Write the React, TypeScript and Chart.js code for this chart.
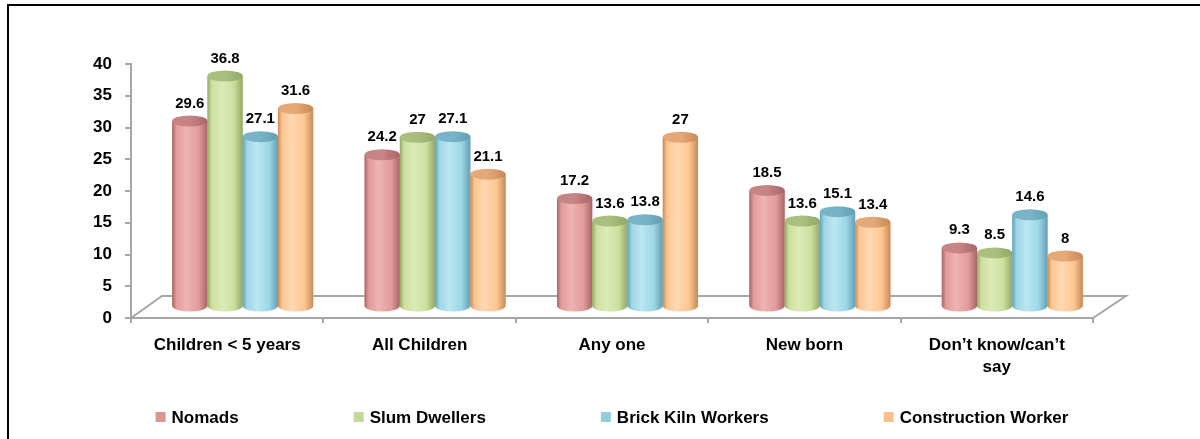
import React, { useEffect, useRef } from "react";
import { Chart, registerables } from "chart.js";

Chart.register(...registerables);

// ---------- data ----------
const categories: (string | string[])[] = [
  "Children < 5 years",
  "All Children",
  "Any one",
  "New born",
  ["Don\u2019t know/can\u2019t", "say"],
];
const seriesNames = ["Nomads", "Slum Dwellers", "Brick Kiln Workers", "Construction Worker"];
const nomads = [29.6, 24.2, 17.2, 18.5, 9.3];
const slumDwellers = [36.8, 27, 13.6, 13.6, 8.5];
const brickKilnWorkers = [27.1, 27.1, 13.8, 15.1, 14.6];
const constructionWorker = [31.6, 21.1, 27, 13.4, 8];
const yTickValues = [0, 5, 10, 15, 20, 25, 30, 35, 40];

// ---------- styles ----------
const FONT = "'Liberation Sans', Arial, Helvetica, sans-serif";
const baseColors = ["#E39B9B", "#CDDF9F", "#9DD6E6", "#FDC692"];
const edgeColors = ["#A86666", "#93A866", "#62A0B4", "#C98955"];
const lightColors = ["#EDB3B3", "#DCEAB8", "#BCE6F1", "#FFD8B2"];
const topColors = ["#C78484", "#AABF7D", "#79B3C7", "#E6A876"];
const legendColors = ["#D99694", "#C3D69B", "#93CDDD", "#FAC090"];
const AXIS_GRAY = "#A6A6A6";
const DEPTH_X = 31;
const DEPTH_Y = 22;
const SHIFT_X = 15.5;
const RY = 5.5;

const cylinderPlugin = {
  id: "cylinder3d",
  beforeDatasetsDraw(chart: any) {
    const { ctx, chartArea } = chart;
    const { left, right, bottom } = chartArea;
    // floor
    ctx.save();
    ctx.strokeStyle = AXIS_GRAY;
    ctx.lineWidth = 2;
    ctx.beginPath();
    ctx.moveTo(left, bottom);
    ctx.lineTo(left + DEPTH_X, bottom - DEPTH_Y);
    ctx.lineTo(right + DEPTH_X + 2, bottom - DEPTH_Y);
    ctx.lineTo(right, bottom);
    ctx.stroke();
    ctx.restore();
    ctx.save();
    ctx.translate(SHIFT_X, 0);
  },
  afterDatasetsDraw(chart: any) {
    const { ctx } = chart;
    chart.data.datasets.forEach((ds: any, di: number) => {
      const meta = chart.getDatasetMeta(di);
      meta.data.forEach((el: any, i: number) => {
        const { x, y, base, width } = el.getProps(["x", "y", "base", "width"], true);
        const l = x - width / 2;
        const r = x + width / 2;
        // body
        const g = ctx.createLinearGradient(l, 0, r, 0);
        g.addColorStop(0, edgeColors[di]);
        g.addColorStop(0.12, baseColors[di]);
        g.addColorStop(0.4, lightColors[di]);
        g.addColorStop(0.75, baseColors[di]);
        g.addColorStop(1, edgeColors[di]);
        ctx.beginPath();
        ctx.moveTo(l, y);
        ctx.lineTo(l, base);
        ctx.ellipse(x, base, width / 2, RY, 0, Math.PI, 0, true);
        ctx.lineTo(r, y);
        ctx.closePath();
        ctx.fillStyle = g;
        ctx.fill();
        // top
        const tg = ctx.createLinearGradient(l, 0, r, 0);
        tg.addColorStop(0, topColors[di]);
        tg.addColorStop(0.5, topColors[di]);
        tg.addColorStop(1, edgeColors[di]);
        ctx.beginPath();
        ctx.ellipse(x, y, width / 2, RY, 0, 0, Math.PI * 2);
        ctx.fillStyle = tg;
        ctx.fill();
        // value label
        ctx.fillStyle = "#000";
        ctx.font = `bold 15px ${FONT}`;
        ctx.textAlign = "center";
        ctx.textBaseline = "alphabetic";
        ctx.fillText(String(ds.data[i]), x, y - RY - 8);
      });
    });
    ctx.restore();
  },
  afterDraw(chart: any) {
    const { ctx, chartArea } = chart;
    ctx.save();
    ctx.font = `bold 17px ${FONT}`;
    const box = 10;
    const gap = 6;
    const pad = 115;
    const items = chart.data.datasets.map((ds: any) => ({
      label: ds.label,
      color: ds.legendColor,
      w: box + gap + ctx.measureText(ds.label).width,
    }));
    const total = items.reduce((s: number, it: any) => s + it.w, 0) + pad * (items.length - 1);
    let xPos = (chartArea.left + chartArea.right) / 2 - total / 2;
    const yc = 417;
    items.forEach((it: any) => {
      ctx.fillStyle = it.color;
      ctx.fillRect(xPos, yc - box / 2, box, box);
      ctx.fillStyle = "#000";
      ctx.textAlign = "left";
      ctx.textBaseline = "middle";
      ctx.fillText(it.label, xPos + box + gap, yc + 1);
      xPos += it.w + pad;
    });
    ctx.restore();
  },
};

export default function App() {
  const ref = useRef<HTMLCanvasElement | null>(null);

  useEffect(() => {
    if (!ref.current) return;
    const seriesValues = [nomads, slumDwellers, brickKilnWorkers, constructionWorker];
    const chart = new Chart(ref.current, {
      type: "bar",
      data: {
        labels: categories as any,
        datasets: seriesNames.map((name, i) => ({
          label: name,
          data: seriesValues[i],
          backgroundColor: baseColors[i],
          legendColor: legendColors[i],
          borderWidth: 0,
          yAxisID: "yb",
          clip: false as any,
          categoryPercentage: 0.733,
          barPercentage: 1,
        })) as any,
      },
      options: {
        responsive: false,
        animation: false,
        events: [],
        layout: { padding: { left: 0, right: 107, top: 64, bottom: 61 } },
        plugins: {
          legend: { display: false },
          tooltip: { enabled: false },
        },
        scales: {
          x: {
            type: "category",
            grid: {
              offset: true,
              drawOnChartArea: false,
              color: AXIS_GRAY,
              lineWidth: 2,
              tickLength: 5,
            },
            border: { color: AXIS_GRAY, width: 2 },
            ticks: {
              color: "#000",
              font: { family: FONT, size: 17, weight: "bold", lineHeight: 1.3 },
              padding: 11,
              maxRotation: 0,
              autoSkip: false,
            },
            afterFit: (s: any) => {
              s.height = 60;
            },
          },
          y: {
            position: "left",
            min: 0,
            max: 40,
            afterBuildTicks: (s: any) => {
              s.ticks = yTickValues.map((v) => ({ value: v }));
            },
            grid: {
              drawOnChartArea: false,
              color: AXIS_GRAY,
              lineWidth: 2,
              tickLength: 6,
            },
            border: { color: AXIS_GRAY, width: 2 },
            ticks: {
              color: "#000",
              font: { family: FONT, size: 17, weight: "bold" },
              padding: 13,
            },
            afterFit: (s: any) => {
              s.width = 131;
            },
          },
          yb: {
            display: false,
            position: "left",
            min: -1.92,
            max: 38.72,
          },
        },
      } as any,
      plugins: [cylinderPlugin],
    });
    return () => chart.destroy();
  }, []);

  return (
    <div
      style={{
        position: "fixed",
        left: 0,
        top: 0,
        width: 1200,
        height: 439,
        overflow: "hidden",
        background: "#fff",
      }}
    >
      <div
        style={{
          position: "absolute",
          left: 7,
          top: 4,
          width: 1300,
          height: 600,
          border: "2px solid #000",
        }}
      />
      <canvas
        ref={ref}
        width={1200}
        height={439}
        style={{ position: "absolute", left: 0, top: 0, width: 1200, height: 439 }}
      />
    </div>
  );
}
